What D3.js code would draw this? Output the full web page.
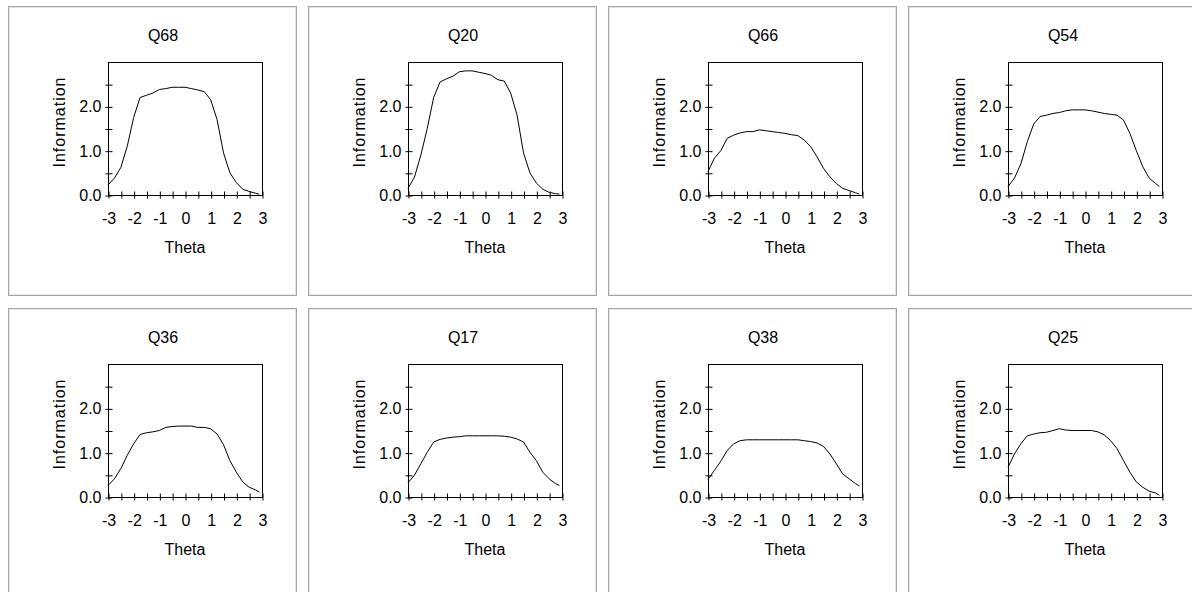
<!DOCTYPE html>
<html>
<head>
<meta charset="utf-8">
<script src="https://cdn.jsdelivr.net/npm/d3@7"></script>
<style>
  body { margin: 0; background: #ffffff; }
  svg { display: block; }
  text { font-family: "Liberation Sans", Arial, sans-serif; fill: #000; }
</style>
</head>
<body>
<div id="wrapper"></div>
<script>
// theta grid shared by every item
const theta = [-3, -2.75, -2.5, -2.25, -2, -1.75, -1.5, -1.25, -1, -0.75, -0.5, -0.25,
    0, 0.25, 0.5, 0.75, 1, 1.25, 1.5, 1.75, 2, 2.25, 2.5, 2.75, 2.9]

const items = ["Q68", "Q20", "Q66", "Q54", "Q36", "Q17", "Q38", "Q25"]

// item information
const q68 = [0.23, 0.38, 0.62, 1.1, 1.75, 2.2, 2.25, 2.3, 2.38, 2.4, 2.43, 2.43,
    2.43, 2.4, 2.37, 2.33, 2.15, 1.7, 0.95, 0.5, 0.28, 0.13, 0.08, 0.04, 0.02]
const q20 = [0.15, 0.4, 0.9, 1.5, 2.2, 2.55, 2.62, 2.68, 2.78, 2.8, 2.8, 2.77,
    2.74, 2.7, 2.6, 2.57, 2.3, 1.8, 0.95, 0.5, 0.27, 0.13, 0.06, 0.03, 0.02]
const q66 = [0.53, 0.83, 1.0, 1.28, 1.35, 1.4, 1.43, 1.43, 1.47, 1.45, 1.43, 1.41,
    1.39, 1.36, 1.34, 1.24, 1.09, 0.86, 0.6, 0.41, 0.26, 0.15, 0.1, 0.05, 0.02]
const q54 = [0.19, 0.38, 0.7, 1.2, 1.6, 1.77, 1.8, 1.84, 1.86, 1.9, 1.92, 1.92,
    1.92, 1.9, 1.87, 1.84, 1.82, 1.8, 1.69, 1.39, 1.0, 0.64, 0.38, 0.26, 0.19]
const q36 = [0.26, 0.41, 0.64, 0.94, 1.2, 1.41, 1.45, 1.47, 1.5, 1.57, 1.59, 1.6,
    1.6, 1.6, 1.57, 1.57, 1.54, 1.42, 1.18, 0.82, 0.56, 0.34, 0.22, 0.16, 0.11]
const q17 = [0.32, 0.49, 0.75, 1.01, 1.24, 1.3, 1.33, 1.35, 1.36, 1.38, 1.38, 1.38,
    1.38, 1.38, 1.38, 1.37, 1.35, 1.31, 1.24, 1.01, 0.82, 0.56, 0.41, 0.3, 0.26]
const q38 = [0.4, 0.6, 0.81, 1.05, 1.2, 1.27, 1.29, 1.29, 1.29, 1.29, 1.29, 1.29,
    1.29, 1.29, 1.29, 1.27, 1.25, 1.22, 1.14, 0.97, 0.75, 0.52, 0.41, 0.3, 0.25]
const q25 = [0.67, 0.97, 1.2, 1.38, 1.42, 1.45, 1.46, 1.5, 1.54, 1.51, 1.5, 1.5,
    1.5, 1.5, 1.47, 1.4, 1.27, 1.09, 0.82, 0.56, 0.34, 0.22, 0.13, 0.09, 0.04]

const series = [q68, q20, q66, q54, q36, q17, q38, q25]

const xTicks = [-3, -2.5, -2, -1.5, -1, -0.5, 0, 0.5, 1, 1.5, 2, 2.5, 3]
const yTicks = [0, 0.5, 1, 1.5, 2, 2.5]

const width = 1192
const height = 592

let panel = {
    width: 288,
    height: 289,
    colStep: 300,
    rowStep: 302,
    left: 8,
    top: 6,
    plot: { left: 100, top: 56, width: 154, height: 133 },
}

const wrapper = d3.select("#wrapper")
    .append("svg")
    .attr("width", width)
    .attr("height", height)

const xScaler = d3.scaleLinear()
    .domain([-3, 3])
    .range([0, panel.plot.width])

const yScaler = d3.scaleLinear()
    .domain([0, 3])
    .range([panel.plot.height, 0])

const lineGenerator = d3.line()
    .x((d, i) => xScaler(theta[i]))
    .y(d => yScaler(d))

items.forEach((name, idx) => {
    const col = idx % 4
    const row = Math.floor(idx / 4)
    const g = wrapper.append("g")
        .attr("transform", `translate(${panel.left + col * panel.colStep}, ${panel.top + row * panel.rowStep})`)

    // etched frame
    g.append("rect")
        .attr("x", 0.5).attr("y", 0.5)
        .attr("width", panel.width).attr("height", panel.height)
        .attr("fill", "none")
        .attr("stroke", "#a6a6a6")
    g.append("rect")
        .attr("x", 1.5).attr("y", 1.5)
        .attr("width", panel.width - 2).attr("height", panel.height - 2)
        .attr("fill", "none")
        .attr("stroke", "#e4e4e4")

    g.append("text")
        .attr("x", 155)
        .attr("y", 35)
        .attr("text-anchor", "middle")
        .attr("font-size", "16px")
        .text(name)

    const bounds = g.append("g")
        .attr("transform", `translate(${panel.plot.left}, ${panel.plot.top})`)

    bounds.append("rect")
        .attr("x", 0.5).attr("y", 0.5)
        .attr("width", panel.plot.width).attr("height", panel.plot.height)
        .attr("fill", "none")
        .attr("stroke", "#000")

    const xAxis = bounds.append("g")
        .attr("transform", `translate(0.5, ${panel.plot.height + 0.5})`)
        .call(d3.axisBottom(xScaler)
            .tickValues(xTicks)
            .tickSize(3)
            .tickPadding(13)
            .tickFormat(d => Number.isInteger(d) ? String(d) : ""))
    xAxis.select(".domain").remove()
    xAxis.selectAll(".tick line").attr("y1", -4).attr("y2", 3).attr("stroke", "#000")
    xAxis.selectAll(".tick text")
        .attr("font-size", "16px")
        .attr("font-family", "Liberation Sans, Arial, sans-serif")
        .attr("dy", "0.75em")

    const yAxis = bounds.append("g")
        .attr("transform", "translate(0.5, 0.5)")
        .call(d3.axisLeft(yScaler)
            .tickValues(yTicks)
            .tickSize(3)
            .tickPadding(4)
            .tickFormat(d => Number.isInteger(d) ? d.toFixed(1) : ""))
    yAxis.select(".domain").remove()
    yAxis.selectAll(".tick line").attr("x1", -3).attr("x2", 4).attr("stroke", "#000")
    yAxis.selectAll(".tick text")
        .attr("font-size", "16px")
        .attr("font-family", "Liberation Sans, Arial, sans-serif")

    bounds.append("path")
        .datum(series[idx])
        .attr("d", lineGenerator)
        .attr("fill", "none")
        .attr("stroke", "#000")
        .attr("stroke-width", 1)

    g.append("text")
        .attr("x", panel.plot.left + panel.plot.width / 2)
        .attr("y", 247)
        .attr("text-anchor", "middle")
        .attr("font-size", "16px")
        .text("Theta")

    g.append("text")
        .attr("transform", `translate(57, 116) rotate(-90)`)
        .attr("text-anchor", "middle")
        .attr("font-size", "16px")
        .attr("letter-spacing", "1px")
        .text("Information")
})
</script>
</body>
</html>
